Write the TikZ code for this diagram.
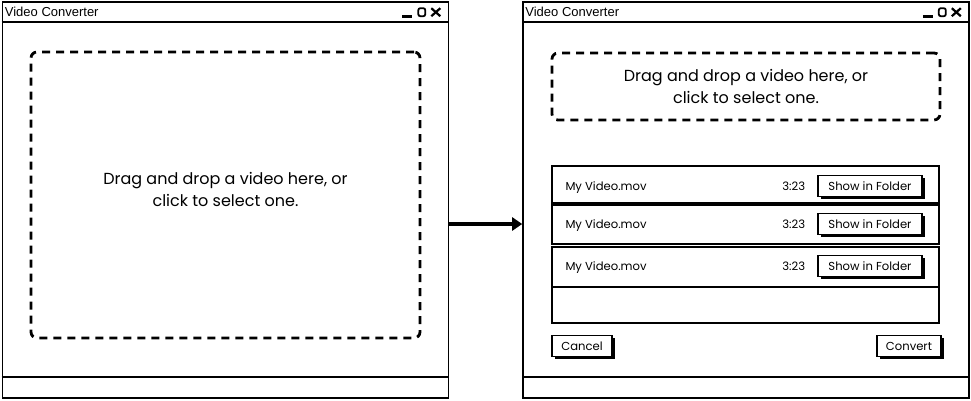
\documentclass[tikz,border=0pt]{standalone}
\usepackage{fontspec}
\setmainfont{Poppins}
\newfontfamily\titlefont{Liberation Sans}
\usetikzlibrary{positioning,shadows,arrows.meta}

\tikzset{
  win/.style={draw, line width=1.6pt, minimum width=446pt, minimum height=396pt, inner sep=0pt},
  bar/.style={line width=1.6pt},
  wintitle/.style={font=\titlefont\fontsize{13}{14}\selectfont, inner sep=0pt, anchor=west},
  dropzone/.style={draw, line width=2.8pt, dash pattern=on 8pt off 6pt, rounded corners=6pt, inner sep=0pt},
  hint/.style={align=center, inner sep=0pt, font=\fontsize{16}{21.5}\selectfont},
  listrow/.style={draw, line width=1.4pt, minimum width=387pt, inner sep=0pt},
  cell/.style={font=\fontsize{11.6}{13}\selectfont, inner sep=0pt},
  btn/.style={draw, fill=white, line width=1.3pt, inner sep=0pt, minimum height=21pt,
    font=\fontsize{11.6}{13}\selectfont,
    drop shadow={shadow xshift=2.5pt, shadow yshift=-2.5pt, opacity=1, fill=black}},
}

\begin{document}
\begin{tikzpicture}
      [x=1pt, y=-1pt]
      \useasboundingbox (0,0) rectangle (971,400);

      % windows
      \node (win1) [win] at (225.5, 200) {};
      \node (win2) [win] at (746, 200) {};

      \draw [bar] ([yshift=-21pt]win1.north west) -- ([yshift=-21pt]win1.north east);
      \draw [bar] ([yshift=22pt]win1.south west) -- ([yshift=22pt]win1.south east);
      \draw [bar] ([yshift=-21pt]win2.north west) -- ([yshift=-21pt]win2.north east);
      \draw [bar] ([yshift=22pt]win2.south west) -- ([yshift=22pt]win2.south east);

      \node (title1) [wintitle] at ([xshift=3pt, yshift=-11pt]win1.north west) {Video Converter};
      \node (title2) [wintitle] at ([xshift=3pt, yshift=-11pt]win2.north west) {Video Converter};

      % window buttons
      \draw [line width=2.6pt] ([xshift=-47pt, yshift=-15pt]win1.north east) -- ++(10,0);
      \draw [line width=1.8pt, rounded corners=2pt] ([xshift=-31pt, yshift=-7pt]win1.north east) rectangle ++(7,8);
      \draw [line width=2.2pt] ([xshift=-18pt, yshift=-7pt]win1.north east) -- ++(9,8);
      \draw [line width=2.2pt] ([xshift=-9pt, yshift=-7pt]win1.north east) -- ++(-9,8);
      \draw [line width=2.6pt] ([xshift=-47pt, yshift=-15pt]win2.north east) -- ++(10,0);
      \draw [line width=1.8pt, rounded corners=2pt] ([xshift=-31pt, yshift=-7pt]win2.north east) rectangle ++(7,8);
      \draw [line width=2.2pt] ([xshift=-18pt, yshift=-7pt]win2.north east) -- ++(9,8);
      \draw [line width=2.2pt] ([xshift=-9pt, yshift=-7pt]win2.north east) -- ++(-9,8);

      % drop zones
      \node (drop1) [dropzone, minimum width=389pt, minimum height=286pt] at (225.5, 195) {};
      \node (drop2) [dropzone, minimum width=388pt, minimum height=67pt] at (746, 86.5) {};
      \node (hint1) [hint] at (225.5, 189.5) {Drag and drop a video here, or\\click to select one.};
      \node (hint2) [hint] at (746, 86.5) {Drag and drop a video here, or\\click to select one.};

      % file list
      \node (row1) [listrow, minimum height=37pt] at (745.5, 184.5) {};
      \node (row2) [listrow, minimum height=39pt] at (745.5, 224.5) {};
      \node (row3) [listrow, minimum height=40pt] at (745.5, 267) {};
      \node (row4) [listrow, minimum height=36pt] at (745.5, 305) {};

      \node (name1) [cell, anchor=west] at ([xshift=14pt, yshift=-3pt]row1.west) {My Video.mov};
      \node (name2) [cell, anchor=west] at ([xshift=14pt, yshift=-1.5pt]row2.west) {My Video.mov};
      \node (name3) [cell, anchor=west] at ([xshift=14pt, yshift=-0.5pt]row3.west) {My Video.mov};

      \node (show1) [btn, minimum width=104pt] at (870, 186) {Show in Folder};
      \node (show2) [btn, minimum width=104pt] at (870, 224) {Show in Folder};
      \node (show3) [btn, minimum width=104pt] at (870, 266) {Show in Folder};

      \node (len1) [cell, left=12pt of show1] {3:23};
      \node (len2) [cell, left=12pt of show2] {3:23};
      \node (len3) [cell, left=12pt of show3] {3:23};

      % dialog buttons
      \node (cancel) [btn, minimum width=60pt] at (582, 346) {Cancel};
      \node (convert) [btn, minimum width=64pt] at (909, 346) {Convert};

      \draw [-{Triangle[length=10pt, width=13pt]}, line width=3.6pt]
        ([yshift=-24pt]win1.east) -- ([yshift=-24pt]win2.west);

    \end{tikzpicture}
\end{document}
